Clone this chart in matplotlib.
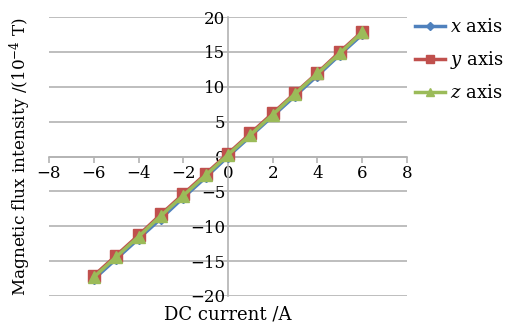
import matplotlib
matplotlib.use("Agg")
import matplotlib.pyplot as plt

current = [-6, -5, -4, -3, -2, -1, 0, 1, 2, 3, 4, 5, 6]
bx = [-17.6, -14.7, -11.8, -8.9, -5.9, -3.0, 0.0, 2.9, 5.8, 8.7, 11.6, 14.6, 17.5]
by = [-17.1, -14.2, -11.3, -8.3, -5.4, -2.5, 0.4, 3.3, 6.2, 9.1, 12.0, 15.0, 17.9]
bz = [-17.3, -14.4, -11.5, -8.5, -5.6, -2.7, 0.25, 3.1, 6.0, 9.0, 11.9, 14.8, 17.8]
xticks = [-8, -6, -4, -2, 0, 2, 4, 6, 8]
yticks = [-20, -15, -10, -5, 0, 5, 10, 15, 20]

plt.rcParams['font.family'] = ['DejaVu Serif']
plt.rcParams['mathtext.fontset'] = 'dejavuserif'
plt.rcParams['axes.unicode_minus'] = True

fig = plt.figure(figsize=(5.10, 3.27), dpi=100)
ax = fig.add_axes([49/510, 31/327, (407-49)/510, (296-17)/327])

gc = '#b3b3b3'
ax.plot(current, bx, color='#4F81BD', lw=2.5, marker='D', ms=5, label='$x$ axis', zorder=3)
ax.plot(current, by, color='#C0504D', lw=2.5, marker='s', ms=8, label='$y$ axis', zorder=4)
ax.plot(current, bz, color='#9BBB59', lw=2.5, marker='^', ms=8, label='$z$ axis', zorder=5)

ax.set_xlim(-8, 8)
ax.set_ylim(-20, 20)
ax.set_xticks(xticks)
ax.set_yticks(yticks)
ax.yaxis.grid(True, color=gc, lw=1.2)
ax.set_axisbelow(True)
for s in ['top', 'right']:
    ax.spines[s].set_visible(False)
ax.spines['left'].set_position(('data', 0))
ax.spines['bottom'].set_position(('data', 0))
ax.spines['left'].set_color(gc)
ax.spines['bottom'].set_color(gc)
ax.spines['left'].set_linewidth(1.2)
ax.spines['bottom'].set_linewidth(1.2)
ax.tick_params(axis='x', direction='out', length=4, color=gc, width=1.2, labelsize=12, pad=2)
ax.tick_params(axis='y', length=0, labelsize=12, pad=2)

ax.set_xlabel('DC current /A', fontsize=13)
ax.xaxis.set_label_coords(0.5, -0.035)
ax.set_ylabel('Magnetic flux intensity /(10$^{-4}$ T)', fontsize=12.2)
ax.yaxis.set_label_coords(-0.045, 0.5)

fig.legend(loc='upper left', bbox_to_anchor=(415/510, 1 - 18/327), frameon=False,
           fontsize=13, handlelength=1.65, labelspacing=0.72, handletextpad=0.3,
           markerscale=0.75, borderaxespad=0, borderpad=0)

fig.savefig('out.png', dpi=100)
